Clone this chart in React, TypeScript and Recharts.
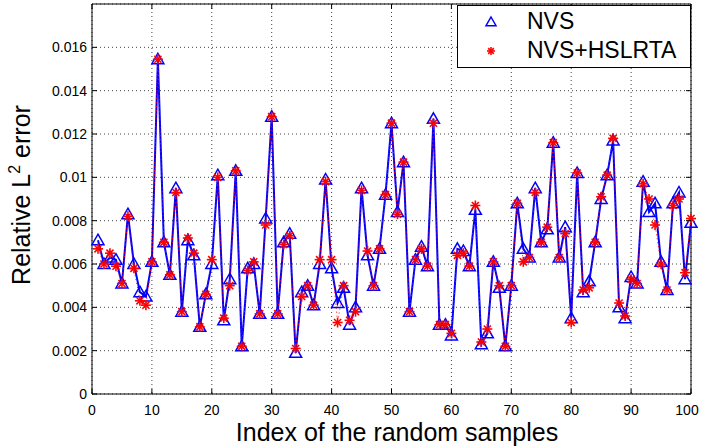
import React from 'react'
import { LineChart, Line, XAxis, YAxis, CartesianGrid, ReferenceArea, Legend } from 'recharts'

// sample index 1..100
const sampleIndex = Array.from({ length: 100 }, (_, i) => i + 1)

const nvsError = [
  0.0071, 0.006, 0.0063, 0.0062, 0.0051, 0.0083, 0.006, 0.0047, 0.0045, 0.0061,
  0.01545, 0.007, 0.0055, 0.0095, 0.0038, 0.0071, 0.0064, 0.0031, 0.0046, 0.006,
  0.0101, 0.0034, 0.0053, 0.0103, 0.0022, 0.0058, 0.006, 0.0037, 0.0081, 0.0128,
  0.0037, 0.007, 0.0074, 0.0019, 0.0047, 0.005, 0.0041, 0.006, 0.0099, 0.0058,
  0.0042, 0.0049, 0.0032, 0.004, 0.0095, 0.0064, 0.005, 0.0067, 0.0092, 0.0125,
  0.0084, 0.0107, 0.0038, 0.0062, 0.0068, 0.0059, 0.0127, 0.0032, 0.0032, 0.0027,
  0.0067, 0.0066, 0.0059, 0.0085, 0.0023, 0.0028, 0.0061, 0.0049, 0.0022, 0.005,
  0.0088, 0.0067, 0.0063, 0.0095, 0.007, 0.0076, 0.0116, 0.0063, 0.0077, 0.0035,
  0.0102, 0.0047, 0.0052, 0.007, 0.009, 0.0101, 0.0117, 0.004, 0.0035, 0.0054,
  0.0051, 0.0098, 0.0084, 0.0088, 0.0061, 0.0048, 0.0088, 0.0093, 0.0053, 0.0079,
]

const hslrtaError = [
  0.0067, 0.006, 0.0065, 0.0059, 0.0051, 0.0082, 0.0058, 0.0043, 0.0041, 0.0061,
  0.01545, 0.007, 0.0055, 0.0093, 0.0038, 0.0072, 0.0065, 0.0031, 0.0046, 0.0062,
  0.01, 0.0035, 0.005, 0.0103, 0.0022, 0.0057, 0.0061, 0.0037, 0.0078, 0.0128,
  0.0037, 0.0069, 0.0073, 0.0021, 0.0045, 0.005, 0.0041, 0.0062, 0.0098, 0.0062,
  0.0033, 0.005, 0.0034, 0.0038, 0.0094, 0.0066, 0.005, 0.0067, 0.0092, 0.0125,
  0.0083, 0.0107, 0.0038, 0.0062, 0.0067, 0.0059, 0.0125, 0.0032, 0.0032, 0.0028,
  0.0064, 0.0065, 0.0059, 0.0087, 0.0024, 0.003, 0.0061, 0.005, 0.0022, 0.005,
  0.0088, 0.0061, 0.0063, 0.0093, 0.007, 0.0077, 0.0116, 0.0063, 0.0074, 0.0033,
  0.0102, 0.0048, 0.0049, 0.007, 0.0091, 0.0101, 0.0118, 0.0042, 0.0036, 0.0053,
  0.0051, 0.0097, 0.009, 0.0078, 0.006, 0.0048, 0.0087, 0.009, 0.0056, 0.0081,
]

const xTicks = [0, 10, 20, 30, 40, 50, 60, 70, 80, 90, 100]
const yTicks = [0, 0.002, 0.004, 0.006, 0.008, 0.01, 0.012, 0.014, 0.016]

const data = sampleIndex.map((idx, i) => ({ idx, nvs: nvsError[i], hsl: hslrtaError[i] }))

const FONT = '"Liberation Sans", Arial, Helvetica, sans-serif'
const W = 701
const H = 447
const LEFT = 92
const RIGHT = 691
const TOP = 4
const BOTTOM = 394

const TriangleMark = ({ cx, cy, size = 6 }: { cx: number; cy: number; size?: number }) => (
  <path
    d={`M${cx},${cy - size} L${cx + size},${cy + size * 0.75} L${cx - size},${cy + size * 0.75} Z`}
    fill="none"
    stroke="#0000ff"
    strokeWidth={1.5}
  />
)

const StarMark = ({ cx, cy, r = 5 }: { cx: number; cy: number; r?: number }) => {
  const d = r * 0.7071
  return (
    <g stroke="#ff0000" strokeWidth={1.6}>
      <line x1={cx - r} y1={cy} x2={cx + r} y2={cy} />
      <line x1={cx} y1={cy - r} x2={cx} y2={cy + r} />
      <line x1={cx - d} y1={cy - d} x2={cx + d} y2={cy + d} />
      <line x1={cx - d} y1={cy + d} x2={cx + d} y2={cy - d} />
    </g>
  )
}

const renderTri = (props: any) => {
  if (props.cx == null || props.cy == null) return <g key={`t${props.index}`} />
  return <g key={`t${props.index}`}><TriangleMark cx={props.cx} cy={props.cy} /></g>
}

const renderStar = (props: any) => {
  if (props.cx == null || props.cy == null) return <g key={`s${props.index}`} />
  return <g key={`s${props.index}`}><StarMark cx={props.cx} cy={props.cy} /></g>
}

const XTick = (props: any) => {
  const { x, payload } = props
  // keep the last label inside the picture
  const tx = Math.min(x, W - 14)
  return (
    <g>
      <line x1={x} y1={BOTTOM} x2={x} y2={BOTTOM - 5} stroke="#000" />
      <line x1={x} y1={TOP} x2={x} y2={TOP + 5} stroke="#000" />
      <text x={tx} y={BOTTOM + 21} textAnchor="middle" fontSize={14} fontFamily={FONT} fill="#000">
        {payload.value}
      </text>
    </g>
  )
}

const YTick = (props: any) => {
  const { y, payload } = props
  const label = String(parseFloat(Number(payload.value).toFixed(3)))
  return (
    <g>
      <line x1={LEFT} y1={y} x2={LEFT + 5} y2={y} stroke="#000" />
      <line x1={RIGHT} y1={y} x2={RIGHT - 5} y2={y} stroke="#000" />
      <text x={LEFT - 5} y={y} dy="0.35em" textAnchor="end" fontSize={14} fontFamily={FONT} fill="#000">
        {label}
      </text>
    </g>
  )
}

const LegendBox = () => (
  <div
    style={{
      width: 234,
      height: 63,
      border: '1px solid #000',
      background: '#fff',
      fontFamily: FONT,
      fontSize: 23,
      color: '#000',
      boxSizing: 'border-box',
      paddingTop: 1,
    }}
  >
    {[
      { name: 'NVS', mark: <TriangleMark cx={12} cy={12} size={5} /> },
      { name: 'NVS+HSLRTA', mark: <StarMark cx={12} cy={12} r={4} /> },
    ].map((e) => (
      <div key={e.name} style={{ display: 'flex', alignItems: 'center', height: 29, lineHeight: '29px' }}>
        <svg width={24} height={24} style={{ marginLeft: 21 }}>{e.mark}</svg>
        <span style={{ marginLeft: 24 }}>{e.name}</span>
      </div>
    ))}
  </div>
)

export default function App() {
  return (
    <div style={{ position: 'absolute', left: 0, top: 0, background: '#fff' }}>
      <LineChart width={W} height={H} data={data} margin={{ top: TOP, right: W - RIGHT, left: 0, bottom: 0 }}>
        <CartesianGrid stroke="#444" strokeDasharray="1 3" strokeWidth={1} />
        <XAxis
          dataKey="idx"
          type="number"
          domain={[0, 100]}
          ticks={xTicks}
          height={H - BOTTOM}
          axisLine={false}
          tickLine={false}
          tick={<XTick />}
          interval={0}
          label={{
            content: () => (
              <text x={397} y={441} textAnchor="middle" fontSize={25} fontFamily={FONT} fill="#000">
                Index of the random samples
              </text>
            ),
          }}
        />
        <YAxis
          type="number"
          domain={[0, 0.018]}
          ticks={yTicks}
          width={LEFT}
          axisLine={false}
          tickLine={false}
          tick={<YTick />}
          interval={0}
          label={{
            content: () => (
              <text transform="translate(30,195) rotate(-90)" textAnchor="middle" fontSize={25} fontFamily={FONT} fill="#000">
                Relative L<tspan dy={-10} fontSize={16}>2</tspan>
                <tspan dy={10}> error</tspan>
              </text>
            ),
          }}
        />
        <ReferenceArea x1={0} x2={100} y1={0} y2={0.018} fill="none" stroke="#000" strokeWidth={1} />
        <Line
          dataKey="nvs"
          name="NVS"
          stroke="#0000ff"
          strokeWidth={2}
          dot={renderTri}
          activeDot={false}
          isAnimationActive={false}
        />
        <Line
          dataKey="hsl"
          name="NVS+HSLRTA"
          stroke="#ff0000"
          strokeWidth={1}
          strokeDasharray="1 3"
          dot={renderStar}
          activeDot={false}
          isAnimationActive={false}
        />
        <Legend
          layout="horizontal"
          verticalAlign="middle"
          align="center"
          content={<LegendBox />}
          wrapperStyle={{ left: 457, top: 5, width: 234, height: 63 }}
        />
      </LineChart>
    </div>
  )
}
